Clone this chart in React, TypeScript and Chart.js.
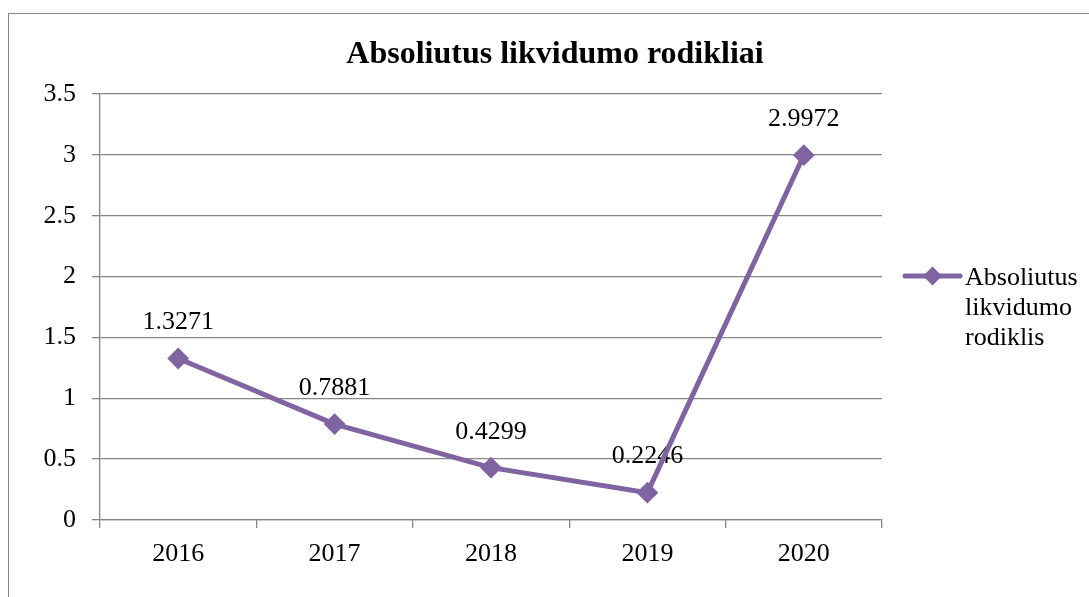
import React, { useEffect, useRef } from 'react';
import { Chart, registerables } from 'chart.js';

Chart.register(...registerables);

const chartTitle = 'Absoliutus likvidumo rodikliai';
const categories = ['2016', '2017', '2018', '2019', '2020'];
const seriesName = 'Absoliutus likvidumo rodiklis';
const legendLines = ['Absoliutus', 'likvidumo', 'rodiklis'];
const values = [1.3271, 0.7881, 0.4299, 0.2246, 2.9972];
const valueLabels = ['1.3271', '0.7881', '0.4299', '0.2246', '2.9972'];
const yMin = 0;
const yMax = 3.5;
const yStep = 0.5;

const LINE_COLOR = '#8064A2';
const AXIS_COLOR = '#868686';
const FONT_FAMILY = '"Liberation Serif", "Times New Roman", serif';

const overlayPlugin = {
  id: 'overlay',
  beforeDatasetsDraw(chart: any) {
    const ctx = chart.ctx;
    const meta = chart.getDatasetMeta(0);
    ctx.save();
    ctx.font = `26px ${FONT_FAMILY}`;
    ctx.fillStyle = '#000';
    ctx.textAlign = 'center';
    ctx.textBaseline = 'middle';
    meta.data.forEach((pt: any, i: number) => {
      ctx.fillText(valueLabels[i], pt.x, pt.y - 36);
    });
    ctx.restore();
  },
  afterDraw(chart: any) {
    const ctx = chart.ctx;
    const area = chart.chartArea;
    ctx.save();
    // title
    ctx.font = `bold 32px ${FONT_FAMILY}`;
    ctx.fillStyle = '#000';
    ctx.textAlign = 'center';
    ctx.textBaseline = 'alphabetic';
    ctx.fillText(chartTitle, 555, 63);

    // legend
    const midY = (area.top + area.bottom) / 2;
    const lineY = midY - 31;
    const x0 = area.right + 23;
    const x1 = area.right + 78;
    const ds = chart.data.datasets[0];
    ctx.strokeStyle = ds.borderColor;
    ctx.lineWidth = 5;
    ctx.lineCap = 'round';
    ctx.beginPath();
    ctx.moveTo(x0, lineY);
    ctx.lineTo(x1, lineY);
    ctx.stroke();
    const cx = (x0 + x1) / 2;
    const r = 9.5;
    ctx.fillStyle = ds.borderColor;
    ctx.beginPath();
    ctx.moveTo(cx - r, lineY);
    ctx.lineTo(cx, lineY - r);
    ctx.lineTo(cx + r, lineY);
    ctx.lineTo(cx, lineY + r);
    ctx.closePath();
    ctx.fill();

    ctx.fillStyle = '#000';
    ctx.font = `26px ${FONT_FAMILY}`;
    ctx.textAlign = 'left';
    ctx.textBaseline = 'alphabetic';
    legendLines.forEach((t, i) => {
      ctx.fillText(t, x1 + 5, lineY + 9 + i * 30);
    });
    ctx.restore();
  },
};

export default function App() {
  const canvasRef = useRef<HTMLCanvasElement | null>(null);

  useEffect(() => {
    if (!canvasRef.current) return;
    const tickFont = { family: FONT_FAMILY, size: 26 };
    const chart = new Chart(canvasRef.current, {
      type: 'line',
      data: {
        labels: categories,
        datasets: [
          {
            label: seriesName,
            data: values,
            borderColor: LINE_COLOR,
            backgroundColor: LINE_COLOR,
            borderWidth: 5,
            pointStyle: 'rectRot',
            pointRadius: 9.5,
            pointBorderWidth: 2,
            pointBackgroundColor: LINE_COLOR,
            pointBorderColor: LINE_COLOR,
            tension: 0,
            fill: false,
          },
        ],
      },
      options: {
        responsive: true,
        maintainAspectRatio: false,
        animation: false,
        layout: { padding: { left: 10, top: 94, right: 207, bottom: 17 } },
        plugins: {
          legend: { display: false },
          title: { display: false },
          tooltip: { enabled: false },
        },
        scales: {
          x: {
            type: 'category',
            offset: true,
            grid: {
              offset: true,
              drawOnChartArea: false,
              drawTicks: true,
              tickLength: 8,
              color: AXIS_COLOR,
              lineWidth: 1.3,
            },
            border: { display: true, color: AXIS_COLOR, width: 1.3 },
            ticks: { font: tickFont, color: '#000', padding: 11, maxRotation: 0, autoSkip: false },
            afterFit: (s: any) => {
              s.height = 60;
            },
          },
          y: {
            min: yMin,
            max: yMax,
            grid: { color: AXIS_COLOR, lineWidth: 1.3, tickLength: 8, drawTicks: true },
            border: { display: true, color: AXIS_COLOR, width: 1.3 },
            ticks: {
              stepSize: yStep,
              font: tickFont,
              color: '#000',
              padding: 16,
              callback: (v: any) => String(v),
            },
            afterFit: (s: any) => {
              s.width = 90;
            },
          },
        },
      },
      plugins: [overlayPlugin],
    });
    return () => chart.destroy();
  }, []);

  return (
    <>
      <div
        style={{
          position: 'absolute',
          left: 8,
          top: 13,
          width: 1081,
          height: 584,
          boxSizing: 'border-box',
          borderLeft: `1px solid ${AXIS_COLOR}`,
          borderTop: `1px solid ${AXIS_COLOR}`,
        }}
      />
      <div style={{ position: 'absolute', left: 0, top: 0, width: 1089, height: 597 }}>
        <canvas ref={canvasRef} />
      </div>
    </>
  );
}
